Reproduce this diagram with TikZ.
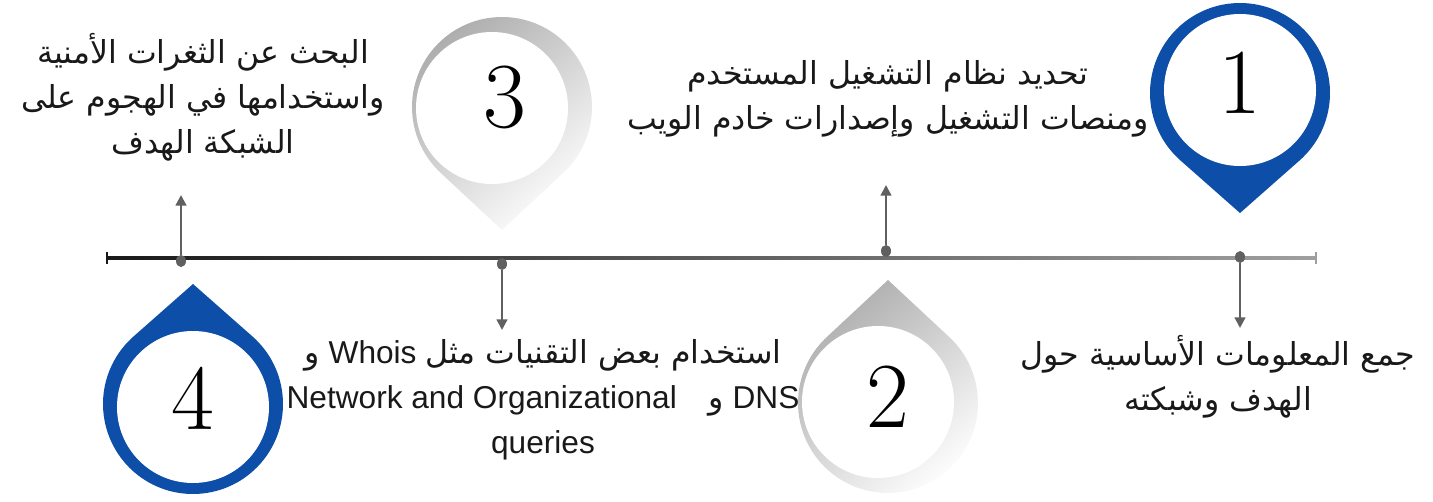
\documentclass[tikz,border=0pt]{standalone}
\usepackage{fontspec}
\TeXXeTstate=1
\newfontfamily\latinfont{Liberation Sans}
\newfontfamily\arabicfont[Script=Arabic]{DejaVu Sans}
\usetikzlibrary{arrows.meta,shapes.geometric}
\definecolor{pinblue}{RGB}{12,78,168}
\definecolor{stemgray}{RGB}{96,96,96}

\begin{document}
\begin{tikzpicture}[
    x=0.02cm, y=0.02cm,
    tdot/.style={ellipse, fill=stemgray, inner sep=0pt,
        minimum width=0.2cm, minimum height=0.24cm},
    stem/.style={-{Triangle[length=6pt, width=6pt]}, line width=1.3pt, draw=stemgray},
    desc/.style={align=center, text=black!90,
        font=\latinfont\fontsize{18}{25.5}\selectfont},
    digit/.style={font=\fontsize{53}{53}\selectfont, inner sep=0pt},
    bluepin/.pic={
        \fill[pinblue] (0,-120) -- (311.4:90)
            arc[start angle=311.4, end angle=588.6, radius=90] -- cycle;
        \fill[white] (0,3) circle[radius=76];
    },
    graypin/.pic={
        \shade[top color=gray!65, bottom color=white, shading angle=40]
            (0,-123) -- (313:90) arc[start angle=313, end angle=587, radius=90] -- cycle;
        \fill[white] (-10,-1) circle[radius=76];
    }
]
\useasboundingbox (0,0) rectangle (1433,501);

% Timeline
\shade[left color=black!90, right color=gray!75] (107,241.6) rectangle (1316,244.4);
\draw[black!90, line width=1.3pt] (107,237) -- (107,249);
\draw[gray!75, line width=1.3pt] (1316,237) -- (1316,249);

% Pins
\pic at (1240,408) {bluepin};
\pic[yscale=-1] at (888,98) {graypin};
\pic at (502,394) {graypin};
\pic[yscale=-1] at (193,97) {bluepin};

\node[digit] (n1) at (1240,418) {1};
\node[digit] (n2) at (888,104) {2};
\node[digit] (n3) at (505,404) {3};
\node[digit] (n4) at (193,103) {4};

% Dots and stems
\node[tdot] (d1) at (1240,244) {};
\node[tdot] (d2) at (886,250) {};
\node[tdot] (d3) at (502,237) {};
\node[tdot] (d4) at (181,240) {};
\coordinate (e1) at (1240,173);
\coordinate (e2) at (886,316);
\coordinate (e3) at (502,171);
\coordinate (e4) at (181,306);
\draw[stem] (d1) -- (e1);
\draw[stem] (d2) -- (e2);
\draw[stem] (d3) -- (e3);
\draw[stem] (d4) -- (e4);

% Step texts
\node[desc] (t1) at (1218,124) {\arabicfont\beginR جمع المعلومات الأساسية حول\endR\\
    \arabicfont\beginR الهدف وشبكته\endR};
\node[desc] (t2) at (888,402) {\arabicfont\beginR تحديد نظام التشغيل المستخدم\endR\\
    \arabicfont\beginR ومنصات التشغيل وإصدارات خادم الويب\endR};
\node[desc] (t3) at (543,101) {\beginR{\arabicfont استخدام بعض التقنيات مثل} \beginL Whois\endL{} {\arabicfont و}\endR\\
    Network and Organizational\quad{\arabicfont و} DNS\\queries};
\node[desc] (t4) at (203,404) {\arabicfont\beginR البحث عن الثغرات الأمنية\endR\\
    \arabicfont\beginR واستخدامها في الهجوم على\endR\\
    \arabicfont\beginR الشبكة الهدف\endR};

\end{tikzpicture}
\end{document}
